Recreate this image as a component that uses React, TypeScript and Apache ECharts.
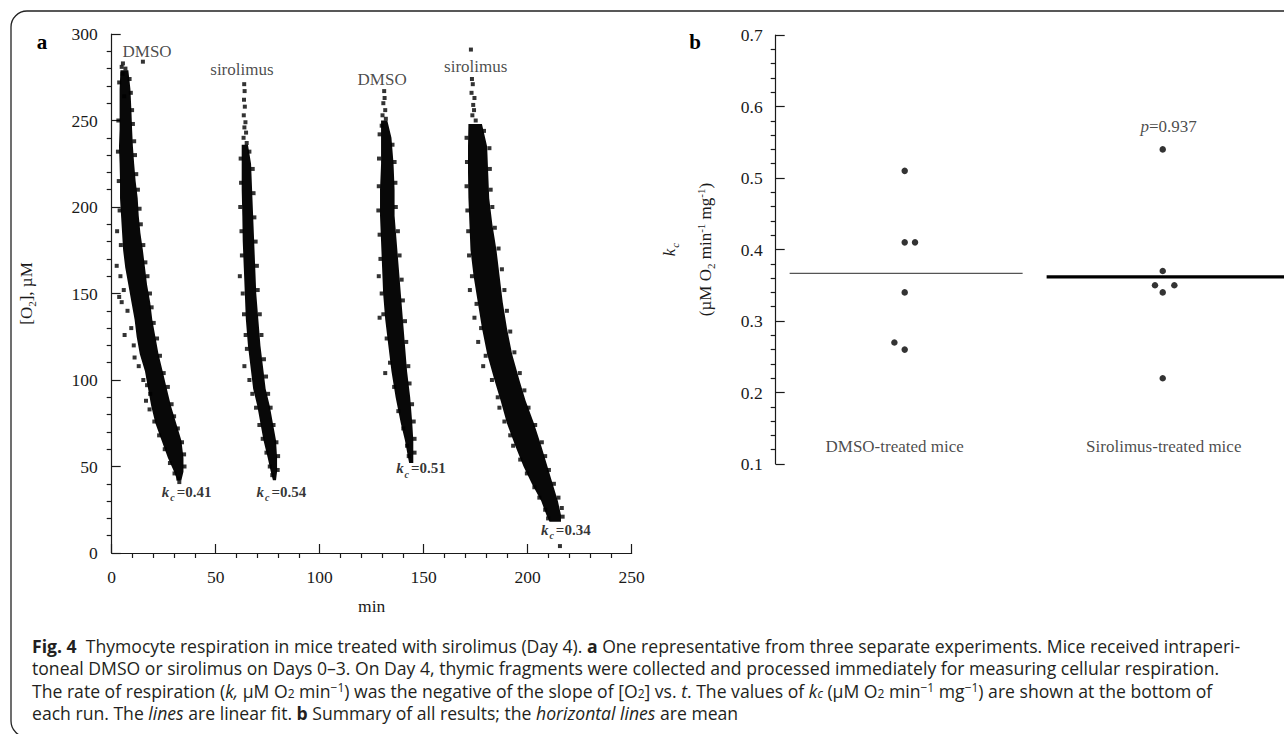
import React, { useEffect, useRef } from "react";
import * as echarts from "echarts";

// ---------- Panel a: O2 traces, dense core of each run as [O2 µM, t left, t right] ----------
const run1Band = [
  [279, 4.2, 8], [268, 3.8, 9], [255, 3.8, 9.5], [245, 3.8, 9.8], [235, 3.5, 10.2],
  [225, 3.8, 10.8], [215, 4, 11.5], [205, 4, 12.5], [195, 4.5, 13], [185, 5, 13.8],
  [175, 5.5, 15], [165, 6.5, 16], [155, 8, 17], [145, 9.5, 18.5], [135, 11, 19.5],
  [125, 12, 21], [115, 13.5, 22.5], [105, 16, 24.5], [95, 17.5, 26.5], [85, 19, 28.5],
  [75, 21, 31], [65, 24, 33.5], [55, 27, 34.5], [47, 30, 34.5], [42, 31.5, 33.5],
];
const run2Band = [
  [236, 62.5, 65.5], [225, 62.5, 67], [210, 62.5, 67.5], [195, 62.8, 68], [180, 63, 68.5],
  [165, 63.5, 69], [150, 64, 69.5], [135, 64.5, 70.5], [120, 65.5, 71.5], [105, 67, 73],
  [95, 68, 74], [85, 70, 76], [75, 71.5, 77.5], [65, 73, 79], [55, 75, 79.5],
  [47, 76.5, 79.5], [42, 77.5, 79],
];
const run3Band = [
  [250, 129.5, 132.5], [240, 129.5, 134.5], [225, 129.5, 135.5], [210, 129, 136], [195, 129, 136],
  [180, 129.5, 137], [165, 130, 138], [150, 130.5, 139], [135, 131.5, 140], [120, 133, 141],
  [105, 134.5, 142], [90, 136.5, 143.5], [75, 139, 144.5], [65, 141, 145], [55, 142.5, 145],
  [52, 143, 145],
];
const run4Band = [
  [248, 171.5, 178], [235, 171.3, 180.5], [220, 171.3, 181], [205, 171.5, 181.5], [190, 172, 183],
  [175, 172.5, 185], [160, 174, 186.5], [145, 176, 188], [130, 178, 190], [115, 180.5, 192.5],
  [100, 184, 196], [88, 187, 199], [75, 190, 203], [62, 194, 206.5], [50, 198, 209.5],
  [40, 202, 212], [30, 206.5, 214.5], [22, 209, 216], [18, 210.5, 216],
];

// scattered individual readings around each core: [t min, O2 µM]
const run1Dots = [
  [5.4, 283], [15, 284], [4.8, 281], [6.6, 280], [5.2, 277], [8.6, 274], [3.6, 272], [9.2, 266], [6, 264],
  [9.8, 256], [10.2, 248], [10.8, 238], [11.2, 230], [11.8, 219], [12.6, 210], [13.4, 199], [14, 190],
  [15.2, 178], [16.2, 168], [17.2, 160], [18.4, 150], [19.2, 142], [20.2, 133], [21.8, 124], [23.2, 114],
  [25, 104], [27, 96], [28.8, 86], [30, 79], [31.8, 72], [33.8, 64], [34.8, 57], [35, 50],
  [3.2, 250], [3, 232], [3.4, 215], [3.8, 198], [2.6, 186], [4.4, 178], [2.4, 166], [4.2, 160],
  [5.8, 152], [3.6, 148], [4.8, 145], [7.6, 140], [9.4, 130], [6.2, 126], [10.6, 120], [11, 113],
  [13, 108], [15.2, 100], [17, 97], [18.5, 92], [16.5, 88], [18.2, 83], [20.5, 76], [22.8, 68],
  [25.5, 60], [28, 52], [30.2, 46], [32, 43], [32.5, 41],
];
const run2Dots = [
  [63.7, 271], [63.9, 267], [63.6, 262], [64, 258], [63.5, 253], [64.3, 249], [63.8, 246], [64.6, 243],
  [63.4, 240], [64.9, 237],
  [66.2, 232], [67.8, 222], [68.2, 208], [68.6, 194], [69.2, 180], [69.8, 166], [70.2, 152], [71.2, 138],
  [72, 126], [73.2, 112], [74.2, 102], [75.2, 92], [76.4, 84], [77.8, 74], [79.2, 64], [80, 56], [79.8, 48],
  [62, 228], [62.2, 214], [61.8, 200], [62.4, 186], [62.6, 172], [61.6, 160], [63, 150], [63.6, 138],
  [64.4, 126], [65, 118], [63.8, 108], [66.2, 100], [67.6, 92], [69.4, 84], [71, 74], [72.6, 66],
  [74.4, 58], [76, 50], [77.2, 45],
];
const run3Dots = [
  [131, 267], [131.2, 263], [130.6, 260], [131.5, 256], [130.2, 253], [131.8, 251], [129.8, 247],
  [135, 236], [136, 226], [136.4, 214], [136.6, 200], [137.6, 186], [138.4, 172], [139.4, 158], [140, 146],
  [141, 134], [141.6, 122], [142.6, 108], [143.2, 98], [144.4, 86], [145.2, 76], [145.6, 66], [145.6, 58],
  [128.8, 242], [128.5, 228], [128.4, 212], [128.2, 198], [128.8, 184], [129.2, 170], [128.4, 160],
  [129.8, 150], [130.6, 138], [128.8, 136], [132.2, 124], [133.8, 110], [131.5, 104], [135.8, 96],
  [137.8, 82], [140.2, 72], [142, 62], [142.8, 56],
];
const run4Dots = [
  [172.7, 291], [173.2, 274], [173.6, 271], [173, 266], [174.4, 263], [173.8, 259], [174.2, 256],
  [173.4, 253], [175, 250],
  [179, 244], [181.6, 234], [181.8, 222], [182.2, 210], [183, 200], [184.2, 188], [186, 176], [187.6, 164],
  [188.8, 152], [190, 140], [191.6, 128], [193.6, 116], [196.2, 104], [198.4, 94], [200.4, 84], [203.6, 74],
  [206.8, 64], [208.4, 56], [210.2, 48], [212.6, 40], [214.8, 32], [216.4, 26], [216.8, 21],
  [170.6, 240], [170.8, 226], [170.6, 212], [171, 198], [171.4, 186], [171.8, 172], [173.2, 160],
  [172.2, 152], [175.4, 144], [174.4, 136], [177.6, 130], [176.2, 122], [179.8, 114], [178.6, 108],
  [182.8, 100], [185.6, 90], [186.4, 84], [188.8, 76], [191.6, 68], [193, 62], [196.4, 54], [199.6, 46],
  [203.2, 38], [205.6, 32], [208.4, 25], [209.8, 20], [215.5, 4],
];

const runNames = ["DMSO", "sirolimus", "DMSO", "sirolimus"];
const runNameT = [17, 62.6, 130, 175];
const runNameO2 = [290, 279.3, 273.5, 281];
const kcValues = ["0.41", "0.54", "0.51", "0.34"];
const kcLabelT = [36, 81.6, 148.7, 218.3];
const kcLabelO2 = [35.4, 35.4, 49, 13.3];

// ---------- Panel b: kc summary ----------
const groups = ["DMSO-treated mice", "Sirolimus-treated mice"];
const dmsoKc = [0.51, 0.41, 0.41, 0.34, 0.27, 0.26];
const dmsoPos = [0.5, 0.5, 0.54, 0.5, 0.46, 0.5];
const siroKc = [0.54, 0.37, 0.35, 0.35, 0.34, 0.22];
const siroPos = [1.5, 1.5, 1.47, 1.545, 1.5, 1.5];
const dmsoMeanSpan = [0.054, 0.957];
const siroMeanSpan = [1.05, 1.97];
const groupLabelPos = [0.461, 1.504];
const pValueText = "0.937";

const captionLines = [
  "{b|Fig. 4}  Thymocyte respiration in mice treated with sirolimus (Day 4). {b|a} One representative from three separate experiments. Mice received intraperi-",
  "toneal DMSO or sirolimus on Days 0–3. On Day 4, thymic fragments were collected and processed immediately for measuring cellular respiration.",
  "The rate of respiration ({i|k,} µM O{sub|2} min{sup|−1}) was the negative of the slope of [O{sub|2}] vs. {i|t}. The values of {i|k}{isub|c} (µM O{sub|2} min{sup|−1} mg{sup|−1}) are shown at the bottom of",
  "each run. The {i|lines} are linear fit. {b|b} Summary of all results; the {i|horizontal lines} are mean",
];

const SERIF = "'Liberation Serif', 'Times New Roman', serif";
const SANS = "'Open Sans', 'Noto Sans', sans-serif";
const INK = "#1a1a1a";
const CAP = 17.6;

function mean(a: number[]) {
  return a.reduce((s, v) => s + v, 0) / a.length;
}

function bandSeries(band: number[][]) {
  return {
    type: "custom",
    xAxisIndex: 0,
    yAxisIndex: 0,
    silent: true,
    data: band.map((r) => [r[1], r[0]]),
    encode: { x: 0, y: 1 },
    renderItem: (params: any, api: any) => {
      if (params.dataIndex !== 0) return null;
      const pts: number[][] = [];
      band.forEach((r) => pts.push(api.coord([r[1], r[0]])));
      for (let i = band.length - 1; i >= 0; i--) pts.push(api.coord([band[i][2], band[i][0]]));
      return { type: "polygon", shape: { points: pts }, style: { fill: "#080808" } };
    },
  };
}

function dotSeries(dots: number[][]) {
  return {
    type: "scatter",
    xAxisIndex: 0,
    yAxisIndex: 0,
    symbol: "rect",
    symbolSize: 4,
    itemStyle: { color: "#000" },
    silent: true,
    data: dots,
  };
}

const tickLine = { color: INK, width: 1.2 };

export default function App() {
  const ref = useRef<HTMLDivElement>(null);

  useEffect(() => {
    if (!ref.current) return;
    const chart = echarts.init(ref.current, null, { renderer: "svg" });

    const subRich = {
      n: { fontFamily: SERIF, fontSize: 17, color: INK, verticalAlign: "middle", lineHeight: 30 },
      s: { fontFamily: SERIF, fontSize: 11, color: INK, verticalAlign: "middle", padding: [10, 0, 0, 0] },
    };

    const capStyle = (extra: any) => ({
      fontFamily: SANS, fontSize: CAP, fill: "#231f20", verticalAlign: "middle", lineHeight: 19, ...extra,
    });
    const capSmall = (extra: any) => ({
      fontFamily: SANS, fontSize: 12, fill: "#231f20", verticalAlign: "middle", lineHeight: 13, ...extra,
    });

    const option: any = {
      animation: false,
      backgroundColor: "#fff",
      grid: [
        { left: 111.7, top: 34, width: 520, height: 519 },
        { left: 775.7, top: 35, width: 508.3, height: 429 },
      ],
      xAxis: [
        {
          gridIndex: 0, type: "value", min: 0, max: 250, interval: 50, position: "bottom",
          axisLine: { show: true, lineStyle: tickLine },
          axisTick: { show: true, inside: true, length: 9, lineStyle: tickLine },
          axisLabel: { fontFamily: SERIF, fontSize: 17.5, color: INK, margin: 15 },
          splitLine: { show: false },
          name: "min", nameLocation: "middle", nameGap: 44,
          nameTextStyle: { fontFamily: SERIF, fontSize: 17.5, color: INK },
        },
        {
          gridIndex: 0, type: "value", min: 0, max: 250, interval: 50, position: "bottom",
          axisLine: { show: false }, axisTick: { show: false }, axisLabel: { show: false },
          minorTick: { show: true, splitNumber: 5, length: 5, lineStyle: tickLine },
          splitLine: { show: false }, minorSplitLine: { show: false },
        },
        {
          gridIndex: 1, type: "value", min: 0, max: 1.97, show: false,
          splitLine: { show: false },
        },
      ],
      yAxis: [
        {
          gridIndex: 0, type: "value", min: 0, max: 300, interval: 50, position: "left",
          axisLine: { show: true, lineStyle: tickLine },
          axisTick: { show: true, inside: true, length: 9, lineStyle: tickLine },
          axisLabel: { fontFamily: SERIF, fontSize: 17.5, color: INK, margin: 14 },
          splitLine: { show: false },
          name: "{n|[O}{s|2}{n|], µM}", nameLocation: "middle", nameRotate: 90, nameGap: 70,
          nameTextStyle: { fontFamily: SERIF, fontSize: 17, color: INK, rich: subRich },
        },
        {
          gridIndex: 0, type: "value", min: 0, max: 300, interval: 50, position: "left",
          axisLine: { show: false }, axisTick: { show: false }, axisLabel: { show: false },
          minorTick: { show: true, splitNumber: 5, length: 5, lineStyle: tickLine },
          splitLine: { show: false }, minorSplitLine: { show: false },
        },
        {
          gridIndex: 1, type: "value", min: 0.1, max: 0.7, interval: 0.1, position: "left",
          axisLine: { show: true, lineStyle: tickLine },
          axisTick: { show: true, inside: true, length: 9, lineStyle: tickLine },
          axisLabel: {
            fontFamily: SERIF, fontSize: 17.5, color: INK, margin: 13,
            formatter: (v: number) => v.toFixed(1),
          },
          splitLine: { show: false },
          name:
            "{i|k}{isub|c}\n{n|(µM O}{sub|2}{n| min}{sup|-1}{n| mg}{sup|-1}{n|)}",
          nameLocation: "middle", nameRotate: 90, nameGap: 54,
          nameTextStyle: {
            fontFamily: SERIF, fontSize: 17, color: INK,
            rich: {
              i: { fontFamily: SERIF, fontSize: 17, fontStyle: "italic", color: INK, verticalAlign: "middle", lineHeight: 40 },
              isub: { fontFamily: SERIF, fontSize: 11, fontStyle: "italic", color: INK, verticalAlign: "middle", padding: [10, 0, 0, 1] },
              n: { fontFamily: SERIF, fontSize: 17, color: INK, verticalAlign: "middle", lineHeight: 32 },
              sub: { fontFamily: SERIF, fontSize: 11, color: INK, verticalAlign: "middle", padding: [10, 0, 0, 0] },
              sup: { fontFamily: SERIF, fontSize: 11, color: INK, verticalAlign: "middle", padding: [0, 0, 10, 0] },
            },
          },
        },
        {
          gridIndex: 1, type: "value", min: 0.1, max: 0.7, interval: 0.1, position: "left",
          axisLine: { show: false }, axisTick: { show: false }, axisLabel: { show: false },
          minorTick: { show: true, splitNumber: 5, length: 5, lineStyle: tickLine },
          splitLine: { show: false }, minorSplitLine: { show: false },
        },
      ],
      series: [
        bandSeries(run1Band),
        bandSeries(run2Band),
        bandSeries(run3Band),
        bandSeries(run4Band),
        dotSeries(run1Dots),
        dotSeries(run2Dots),
        dotSeries(run3Dots),
        dotSeries(run4Dots),
        {
          type: "scatter", xAxisIndex: 0, yAxisIndex: 0, symbolSize: 0, silent: true,
          data: runNames.map((n, i) => ({ value: [runNameT[i], runNameO2[i]], name: n })),
          label: {
            show: true, position: "inside", formatter: (p: any) => p.name,
            fontFamily: SERIF, fontSize: 17, color: INK,
          },
        },
        {
          type: "scatter", xAxisIndex: 0, yAxisIndex: 0, symbolSize: 0, silent: true,
          data: kcValues.map((v, i) => ({ value: [kcLabelT[i], kcLabelO2[i]], name: v })),
          label: {
            show: true, position: "inside",
            formatter: (p: any) => `{k|k}{c|c}{v|=${p.name}}`,
            rich: {
              k: { fontFamily: SERIF, fontSize: 15, fontStyle: "italic", fontWeight: "bold", color: "#000", verticalAlign: "middle", lineHeight: 18 },
              c: { fontFamily: SERIF, fontSize: 10, fontStyle: "italic", fontWeight: "bold", color: "#000", verticalAlign: "middle", padding: [12, 2, 0, 1] },
              v: { fontFamily: SERIF, fontSize: 15, fontWeight: "bold", color: "#000", verticalAlign: "middle", lineHeight: 18 },
            },
          },
        },
        // panel b
        {
          type: "line", xAxisIndex: 2, yAxisIndex: 2, symbol: "none", silent: true,
          lineStyle: { color: "#555", width: 1.4 },
          data: dmsoMeanSpan.map((x) => [x, mean(dmsoKc)]),
        },
        {
          type: "line", xAxisIndex: 2, yAxisIndex: 2, symbol: "none", silent: true,
          lineStyle: { color: "#000", width: 3.4 },
          data: siroMeanSpan.map((x) => [x, mean(siroKc)]),
        },
        {
          type: "scatter", xAxisIndex: 2, yAxisIndex: 2, symbol: "circle", symbolSize: 6.5,
          itemStyle: { color: "#000" }, silent: true,
          data: dmsoKc.map((k, i) => [dmsoPos[i], k]),
        },
        {
          type: "scatter", xAxisIndex: 2, yAxisIndex: 2, symbol: "circle", symbolSize: 6.5,
          itemStyle: { color: "#000" }, silent: true,
          data: siroKc.map((k, i) => [siroPos[i], k]),
        },
        {
          type: "scatter", xAxisIndex: 2, yAxisIndex: 2, symbolSize: 0, silent: true,
          data: groups.map((g, i) => ({ value: [groupLabelPos[i], 0.124], name: g })),
          label: {
            show: true, position: "inside", formatter: (p: any) => p.name,
            fontFamily: SERIF, fontSize: 17, color: INK,
          },
        },
        {
          type: "scatter", xAxisIndex: 2, yAxisIndex: 2, symbolSize: 0, silent: true,
          data: [{ value: [1.523, 0.572], name: pValueText }],
          label: {
            show: true, position: "inside",
            formatter: (p: any) => `{p|p}{v|=${p.name}}`,
            rich: {
              p: { fontFamily: SERIF, fontSize: 17, fontStyle: "italic", color: INK },
              v: { fontFamily: SERIF, fontSize: 17, color: INK },
            },
          },
        },
      ],
      graphic: [
        {
          type: "rect", silent: true,
          shape: { x: 11, y: 11, width: 1300, height: 726, r: 16 },
          style: { fill: "none", stroke: "#222", lineWidth: 1.3 },
        },
        {
          type: "text", x: 42, y: 42, silent: true,
          style: { text: "a", fontFamily: SERIF, fontSize: 21, fontWeight: "bold", fill: "#000", align: "center", verticalAlign: "middle" },
        },
        {
          type: "text", x: 695, y: 42, silent: true,
          style: { text: "b", fontFamily: SERIF, fontSize: 21, fontWeight: "bold", fill: "#000", align: "center", verticalAlign: "middle" },
        },
        ...captionLines.map((line, i) => ({
          type: "text", x: 32, y: 646 + i * 22.3, silent: true,
          style: {
            text: line, fontFamily: SANS, fontSize: CAP, fill: "#231f20", lineHeight: 19,
            verticalAlign: "middle", align: "left",
            rich: {
              b: capStyle({ fontWeight: "bold" }),
              i: capStyle({ fontStyle: "italic" }),
              isub: capSmall({ fontStyle: "italic", padding: [6, 0, 0, 0] }),
              sub: capSmall({ padding: [6, 0, 0, 0] }),
              sup: capSmall({ padding: [0, 0, 6, 0] }),
            },
          },
        })),
      ],
    };

    chart.setOption(option);
    return () => chart.dispose();
  }, []);

  return (
    <div
      ref={ref}
      style={{ position: "fixed", left: 0, top: 0, width: 1284, height: 734, background: "#fff" }}
    />
  );
}
